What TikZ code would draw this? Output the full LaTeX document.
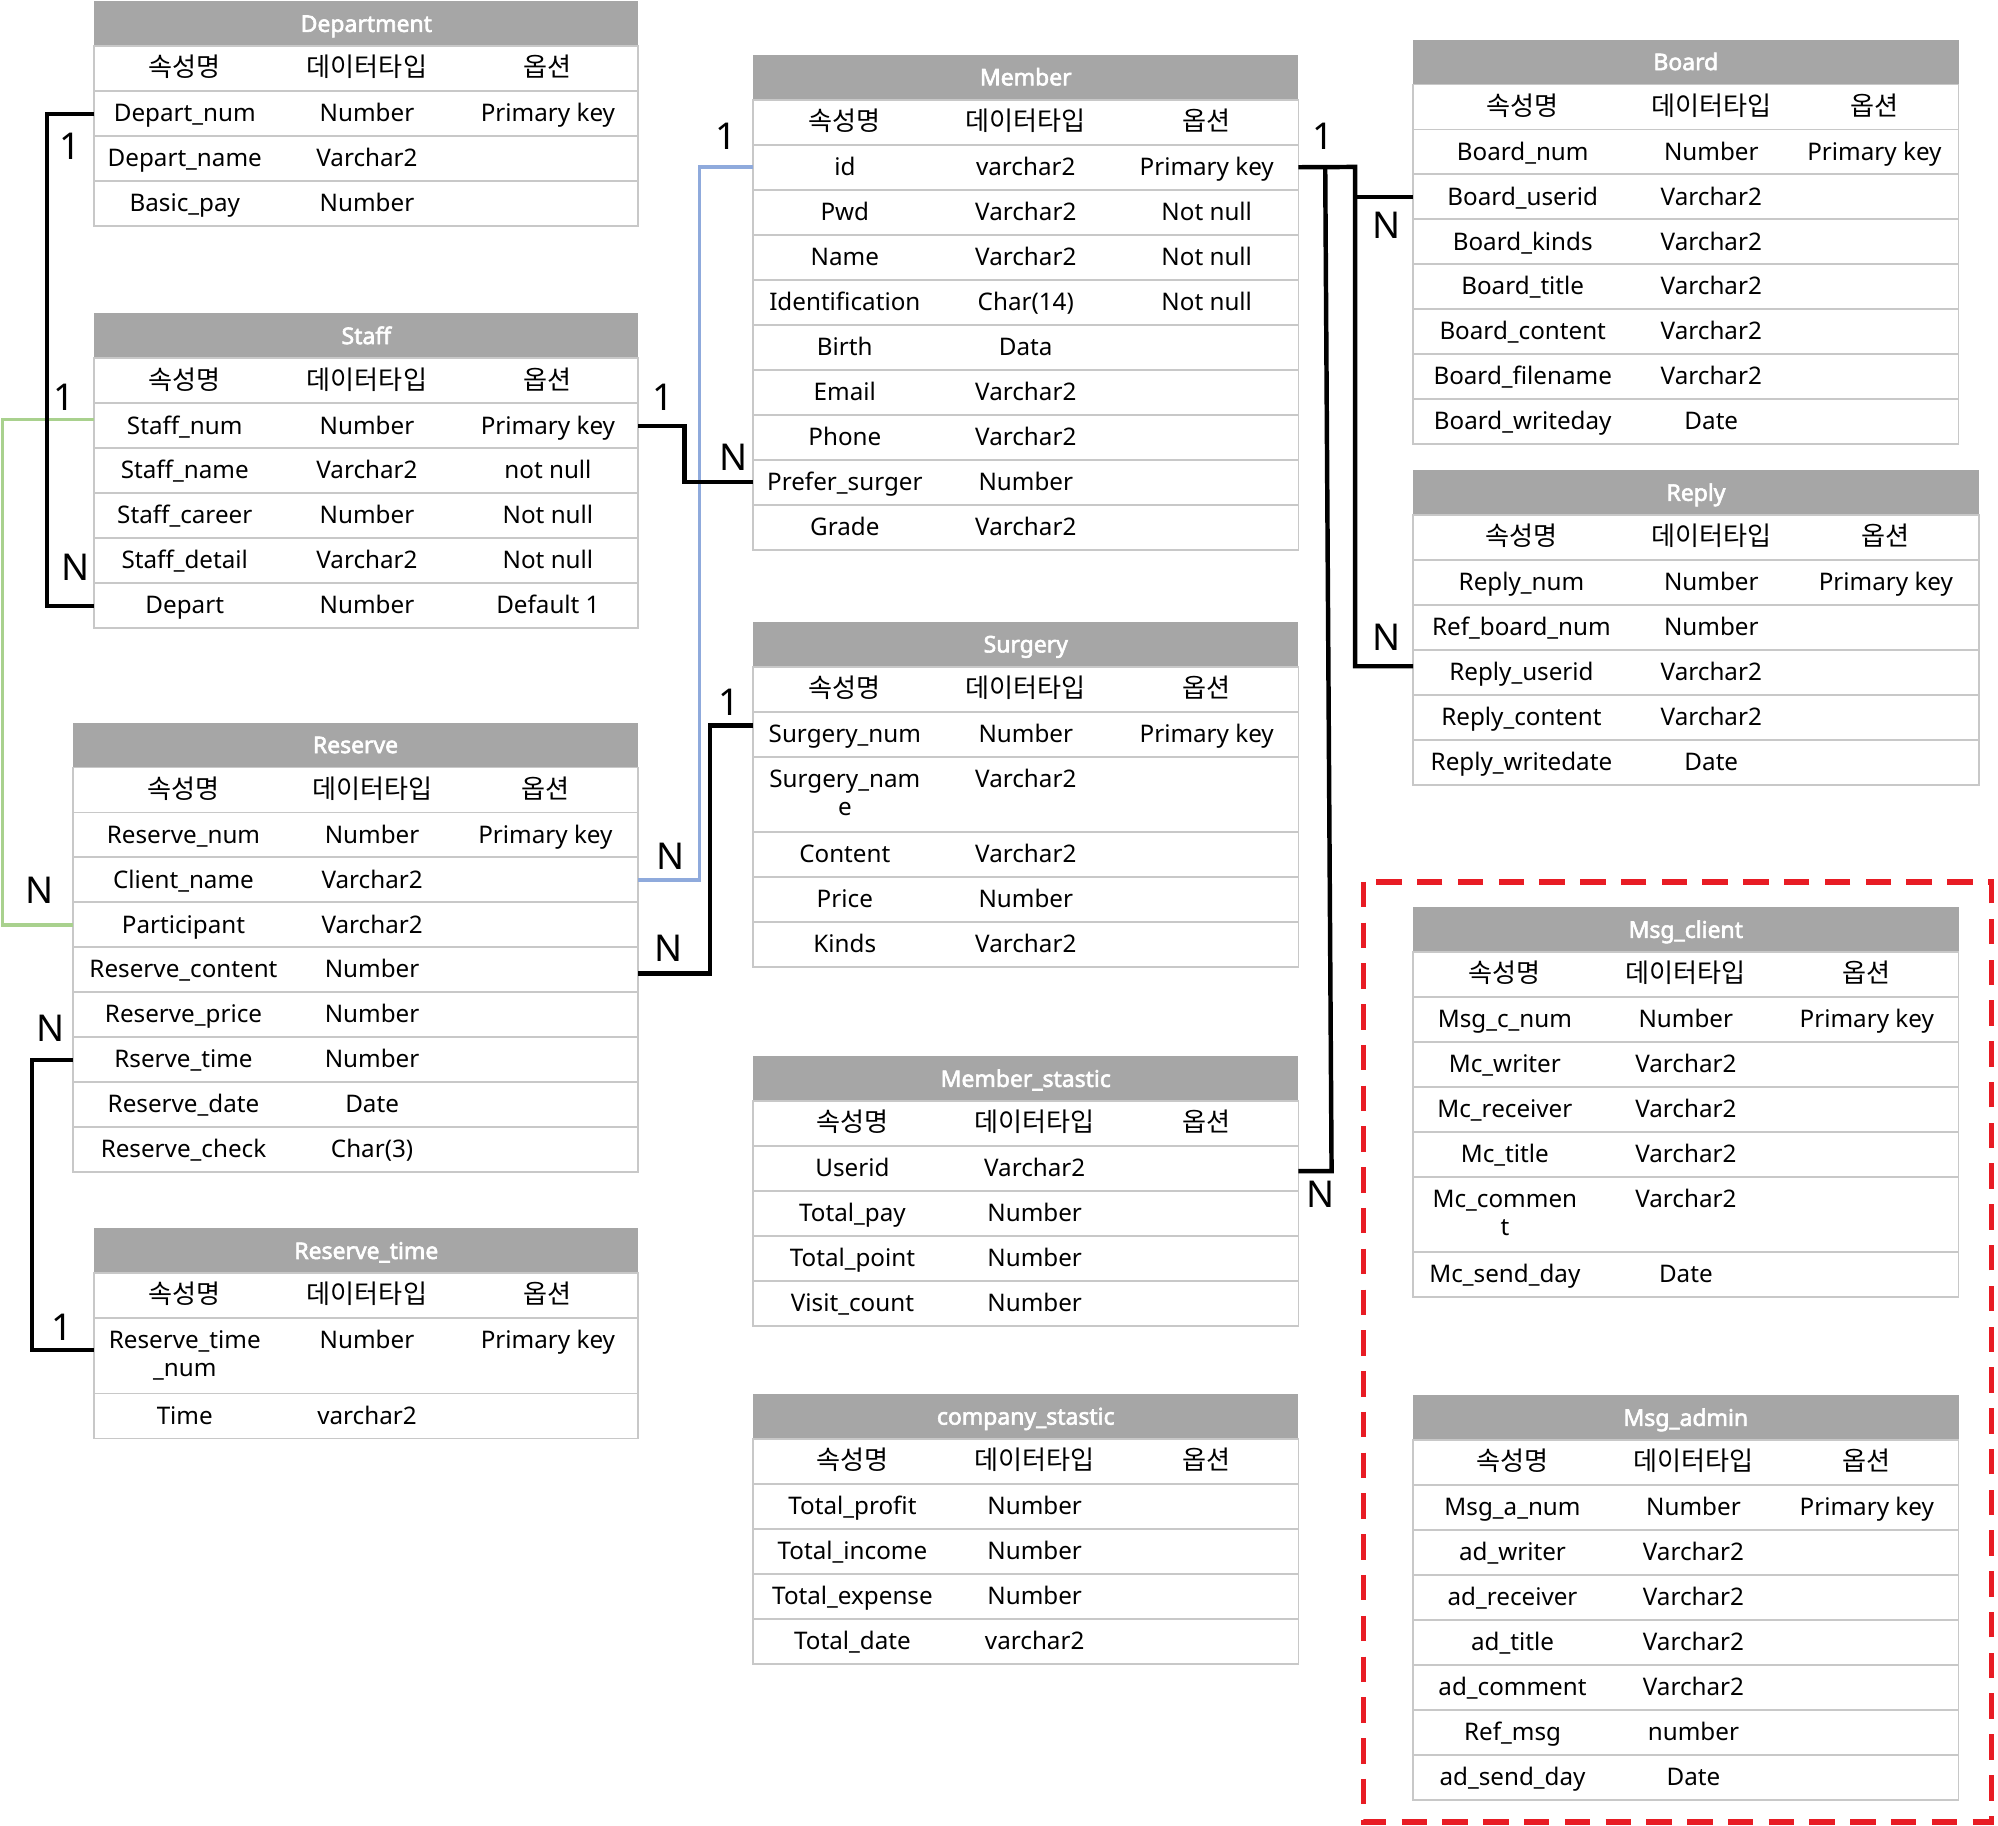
\documentclass[tikz,border=0pt]{standalone}
\usepackage{fontspec}
\setmainfont{Noto Sans}
\newfontfamily\kfont{Noto Sans CJK KR}
\newfontfamily\hfont{Noto Sans}[FakeBold=2.6]
\usetikzlibrary{calc}
\definecolor{hdrgray}{RGB}{166,166,166}
\definecolor{gridgray}{RGB}{200,200,200}
\definecolor{lgreen}{RGB}{169,209,142}
\definecolor{lblue}{RGB}{143,170,220}
\definecolor{dred}{RGB}{232,28,36}
\tikzset{
  hdrbox/.style={anchor=north west, fill=hdrgray, draw=none, minimum height=35.3pt, inner sep=0pt, outer sep=0pt},
  hdrtext/.style={anchor=base, inner sep=0pt, text=white, font=\hfont\fontsize{18}{22}\selectfont},
  rowbox/.style={anchor=north west, draw=gridgray, line width=1.5pt, fill=white, inner sep=0pt, outer sep=0pt},
  cell/.style={anchor=base, inner sep=0pt, font=\fontsize{19}{22}\selectfont},
  kcell/.style={anchor=base, inner sep=0pt, font=\kfont\fontsize{20.5}{22}\selectfont},
  card/.style={anchor=center, inner sep=0pt, font=\fontsize{29}{32}\selectfont},
  conn/.style={draw=black, line width=3.5pt},
  gconn/.style={draw=lgreen, line width=3pt},
  bconn/.style={draw=lblue, line width=3pt},
  reddash/.style={draw=dred, line width=4.4pt, dash pattern=on 20pt off 12pt}
}
\newcommand\erdtable[9]{%
  \pgfmathsetmacro\tw{#3-#2}%
  \node[hdrbox, minimum width=\tw pt] (#1-h) at (#2,#4) {};
  \node[hdrtext] (#1-t) at ({(#2+#3)/2},{#4+24}) {#5};
  \node[rowbox, minimum width=\tw pt, minimum height=35.3pt] (#1-0) at (#2,{#4+35.3}) {};
  \node[kcell] (#1-k1) at (#6,{#4+35.3+24}) {속성명};
  \node[kcell] (#1-k2) at (#7,{#4+35.3+24}) {데이터타입};
  \node[kcell] (#1-k3) at (#8,{#4+35.3+24}) {옵션};
  \xdef\cury{\fpeval{#4+70.6}}%
  \foreach \rh/\ra/\rb/\rc [count=\ri] in {#9} {
    \node[rowbox, minimum width=\tw pt, minimum height=\rh pt] (#1-\ri) at (#2,\cury) {};
    \node[cell] (#1-\ri-a) at (#6,{\cury+24}) {\ra};
    \node[cell] (#1-\ri-b) at (#7,{\cury+24}) {\rb};
    \node[cell] (#1-\ri-c) at (#8,{\cury+24}) {\rc};
    \xdef\cury{\fpeval{\cury+\rh}}%
  }
}
\begin{document}
\begin{tikzpicture}[x=1pt,y=-1pt]
\useasboundingbox[fill=white] (0,0) rectangle (1568,1433);

% ---------- tables ----------
\erdtable{dep}{74}{501}{1}{Department}{145}{288}{430}{%
  35.3/Depart\_num/Number/Primary key,
  35.3/Depart\_name/Varchar2/{},
  35.3/Basic\_pay/Number/{}}

\erdtable{staff}{74}{501}{246}{Staff}{145}{288}{430}{%
  35.3/Staff\_num/Number/Primary key,
  35.3/Staff\_name/Varchar2/not null,
  35.3/Staff\_career/Number/Not null,
  35.3/Staff\_detail/Varchar2/Not null,
  35.3/Depart/Number/Default 1}

\erdtable{res}{57}{501}{567}{Reserve}{144}{292}{428}{%
  35.3/Reserve\_num/Number/Primary key,
  35.3/Client\_name/Varchar2/{},
  35.3/Participant/Varchar2/{},
  35.3/Reserve\_content/Number/{},
  35.3/Reserve\_price/Number/{},
  35.3/Rserve\_time/Number/{},
  35.3/Reserve\_date/Date/{},
  35.3/Reserve\_check/Char(3)/{}}

\erdtable{rt}{74}{501}{964}{Reserve\_time}{145}{288}{430}{%
  59/Reserve\_time/Number/Primary key,
  35.3/Time/varchar2/{}}
\node[cell] (rt-1-a2) at (145,1080.6) {\_num};

\erdtable{mem}{591}{1019}{43}{Member}{663}{805}{947}{%
  35.3/id/varchar2/Primary key,
  35.3/Pwd/Varchar2/Not null,
  35.3/Name/Varchar2/Not null,
  35.3/Identification/Char(14)/Not null,
  35.3/Birth/Data/{},
  35.3/Email/Varchar2/{},
  35.3/Phone/Varchar2/{},
  35.3/Prefer\_surger/Number/{},
  35.3/Grade/Varchar2/{}}

\erdtable{sur}{591}{1019}{488}{Surgery}{663}{805}{947}{%
  35.3/Surgery\_num/Number/Primary key,
  59/Surgery\_nam/Varchar2/{},
  35.3/Content/Varchar2/{},
  35.3/Price/Number/{},
  35.3/Kinds/Varchar2/{}}
\node[cell] (sur-2-a2) at (663,639.9) {e};

\erdtable{ms}{591}{1019}{829}{Member\_stastic}{669}{812}{947}{%
  35.3/Userid/Varchar2/{},
  35.3/Total\_pay/Number/{},
  35.3/Total\_point/Number/{},
  35.3/Visit\_count/Number/{}}

\erdtable{cs}{591}{1019}{1094}{company\_stastic}{669}{812}{947}{%
  35.3/Total\_profit/Number/{},
  35.3/Total\_income/Number/{},
  35.3/Total\_expense/Number/{},
  35.3/Total\_date/varchar2/{}}

\erdtable{brd}{1109}{1537}{31}{Board}{1195}{1343}{1471}{%
  35.3/Board\_num/Number/Primary key,
  35.3/Board\_userid/Varchar2/{},
  35.3/Board\_kinds/Varchar2/{},
  35.3/Board\_title/Varchar2/{},
  35.3/Board\_content/Varchar2/{},
  35.3/Board\_filename/Varchar2/{},
  35.3/Board\_writeday/Date/{}}

\erdtable{rep}{1109}{1553}{369}{Reply}{1194}{1343}{1480}{%
  35.3/Reply\_num/Number/Primary key,
  35.3/Ref\_board\_num/Number/{},
  35.3/Reply\_userid/Varchar2/{},
  35.3/Reply\_content/Varchar2/{},
  35.3/Reply\_writedate/Date/{}}

\erdtable{mc}{1109}{1537}{712}{Msg\_client}{1181}{1323}{1465}{%
  35.3/Msg\_c\_num/Number/Primary key,
  35.3/Mc\_writer/Varchar2/{},
  35.3/Mc\_receiver/Varchar2/{},
  35.3/Mc\_title/Varchar2/{},
  59/Mc\_commen/Varchar2/{},
  35.3/Mc\_send\_day/Date/{}}
\node[cell] (mc-5-a2) at (1181,969.8) {t};

\erdtable{ma}{1109}{1537}{1095}{Msg\_admin}{1187}{1329}{1465}{%
  35.3/Msg\_a\_num/Number/Primary key,
  35.3/ad\_writer/Varchar2/{},
  35.3/ad\_receiver/Varchar2/{},
  35.3/ad\_title/Varchar2/{},
  35.3/ad\_comment/Varchar2/{},
  35.3/Ref\_msg/number/{},
  35.3/ad\_send\_day/Date/{}}

% ---------- group frame ----------
\draw[reddash] (1070,692) rectangle (1563,1430);

% ---------- connectors ----------
\draw[gconn] ([yshift=5pt]staff-1.west) -- ++(-72,0) |- (res-3.west);
\draw[conn] (dep-1.west) -- ++(-37,0) |- (staff-5.west);
\draw[bconn] (mem-1.west) -- ++(-42,0) |- (res-2.east);
\draw[conn] (staff-1.east) -- ++(36,0) |- (mem-8.west);
\draw[conn] ([yshift=7pt]sur-1.west) -- ++(-34,0) |- ([yshift=-3pt]res-4.east);
\draw[conn] (res-6.west) -- ++(-32,0) |- ([yshift=4.5pt]rt-1.west);
\coordinate (mb) at (1063.5,131);
\draw[conn] (mem-1.east) -- (mb) |- ([yshift=5pt]rep-3.west);
\draw[conn] (mb |- brd-2.west) -- (brd-2.west);
\coordinate (mtop) at (1040,131);
\coordinate (mst) at (1045,919);
\draw[conn] (mtop) -- (mst) -- (mst -| ms-1.east);

% ---------- cardinalities ----------
\node[card] (l1) at (55,115) {1};
\node[card] (l2) at (50,312) {1};
\node[card] (l3) at (59,445) {N};
\node[card] (l4) at (31,699) {N};
\node[card] (l5) at (40,807) {N};
\node[card] (l6) at (49,1042) {1};
\node[card] (l7) at (520,312) {1};
\node[card] (l8) at (576,359) {N};
\node[card] (l9) at (570,107) {1};
\node[card] (l10) at (526,672) {N};
\node[card] (l11) at (525,744) {N};
\node[card] (l12) at (572,551) {1};
\node[card] (l13) at (1038,107) {1};
\node[card] (l14) at (1088,177) {N};
\node[card] (l15) at (1088,500) {N};
\node[card] (l16) at (1036,937) {N};
\end{tikzpicture}
\end{document}
